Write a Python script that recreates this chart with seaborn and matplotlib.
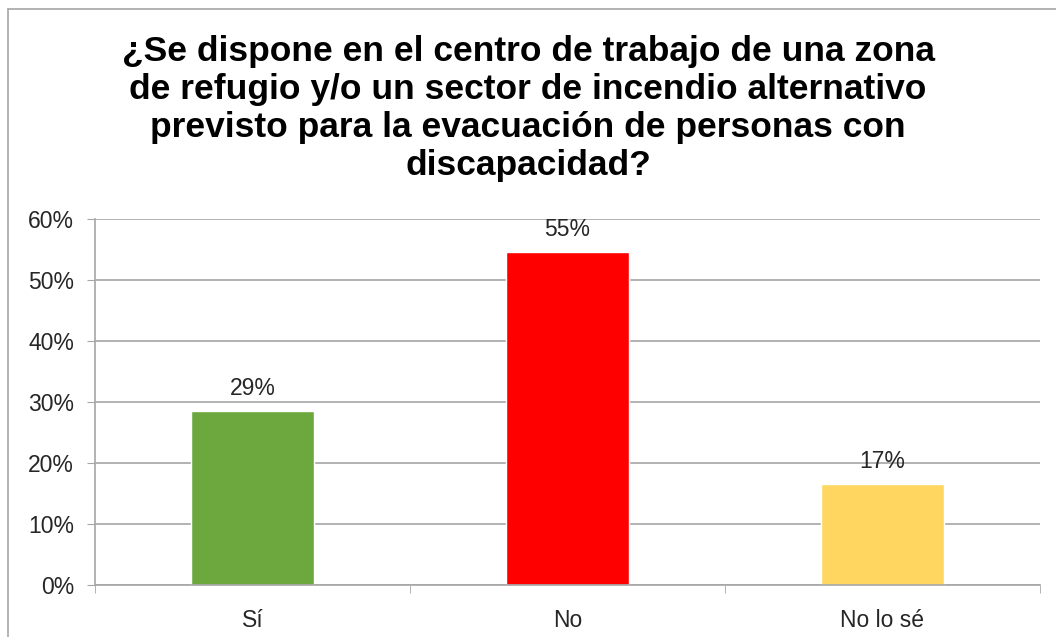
#!/usr/bin/env python3

import matplotlib
matplotlib.use("Agg")
import matplotlib.pyplot as plt
import seaborn as sns
from matplotlib.lines import Line2D
from matplotlib.ticker import PercentFormatter, FixedLocator
from pandas import DataFrame

categories = ["Sí", "No", "No lo sé"]
shares = [28.5, 54.6, 16.6]
labels = ["29%", "55%", "17%"]
bar_colors = ["#6CA83E", "#FF0000", "#FFD65F"]
title = ("¿Se dispone en el centro de trabajo de una zona\n"
         "de refugio y/o un sector de incendio alternativo\n"
         "previsto para la evacuación de personas con\n"
         "discapacidad?")


def main():
    sns.set_style("white")
    plt.rcParams['font.family'] = ['Liberation Sans', 'DejaVu Sans']

    data = DataFrame({"respuesta": categories, "pct": shares})

    fig = plt.figure(figsize=(10.56, 6.37), dpi=100)
    ax = fig.add_axes([95 / 1056, 1 - 585 / 637, 945 / 1056, 366 / 637])

    sns.barplot(data=data, x="respuesta", y="pct", hue="respuesta",
                palette=bar_colors, width=0.39, legend=False, ax=ax,
                saturation=1)

    ax.set_ylim(0, 60)
    ax.set_xlim(-0.5, 2.5)
    ax.set_yticks(range(0, 61, 10))
    ax.yaxis.set_major_formatter(PercentFormatter(decimals=0))
    ax.yaxis.grid(True, color="#A6A6A6", linewidth=1.2)
    ax.set_axisbelow(True)

    for s in ["top", "right"]:
        ax.spines[s].set_visible(False)
    for s in ["left", "bottom"]:
        ax.spines[s].set_color("#A6A6A6")
        ax.spines[s].set_linewidth(1.2)

    ax.tick_params(axis="y", length=6, color="#A6A6A6", labelsize=16.5,
                   labelcolor="#262626", left=True, pad=9)
    ax.tick_params(axis="x", length=0, labelsize=16.5, labelcolor="#262626",
                   pad=17)
    ax.xaxis.set_minor_locator(FixedLocator([-0.5, 0.5, 1.5, 2.5]))
    ax.tick_params(axis="x", which="minor", length=6, color="#A6A6A6",
                   bottom=True)
    ax.set_xlabel("")
    ax.set_ylabel("")

    # value labels above bars
    for i, (v, lab) in enumerate(zip(shares, labels)):
        ax.annotate(lab, (i, v), xytext=(0, 8), textcoords="offset points",
                    ha="center", va="bottom", fontsize=16.5, color="#262626")

    fig.text(0.5, 1 - 35 / 637, title, ha="center", va="top",
             fontsize=25.5, fontweight="bold", linespacing=1.19,
             color="black")

    # chart frame (left and top edges visible in the original)
    fig.add_artist(Line2D([8 / 1056, 8 / 1056], [0, 1 - 9 / 637],
                          transform=fig.transFigure, color="#A6A6A6", lw=1.2))
    fig.add_artist(Line2D([8 / 1056, 1], [1 - 9 / 637, 1 - 9 / 637],
                          transform=fig.transFigure, color="#A6A6A6", lw=1.2))

    plt.savefig("out.png", dpi=100)


if __name__ == "__main__":
    main()
